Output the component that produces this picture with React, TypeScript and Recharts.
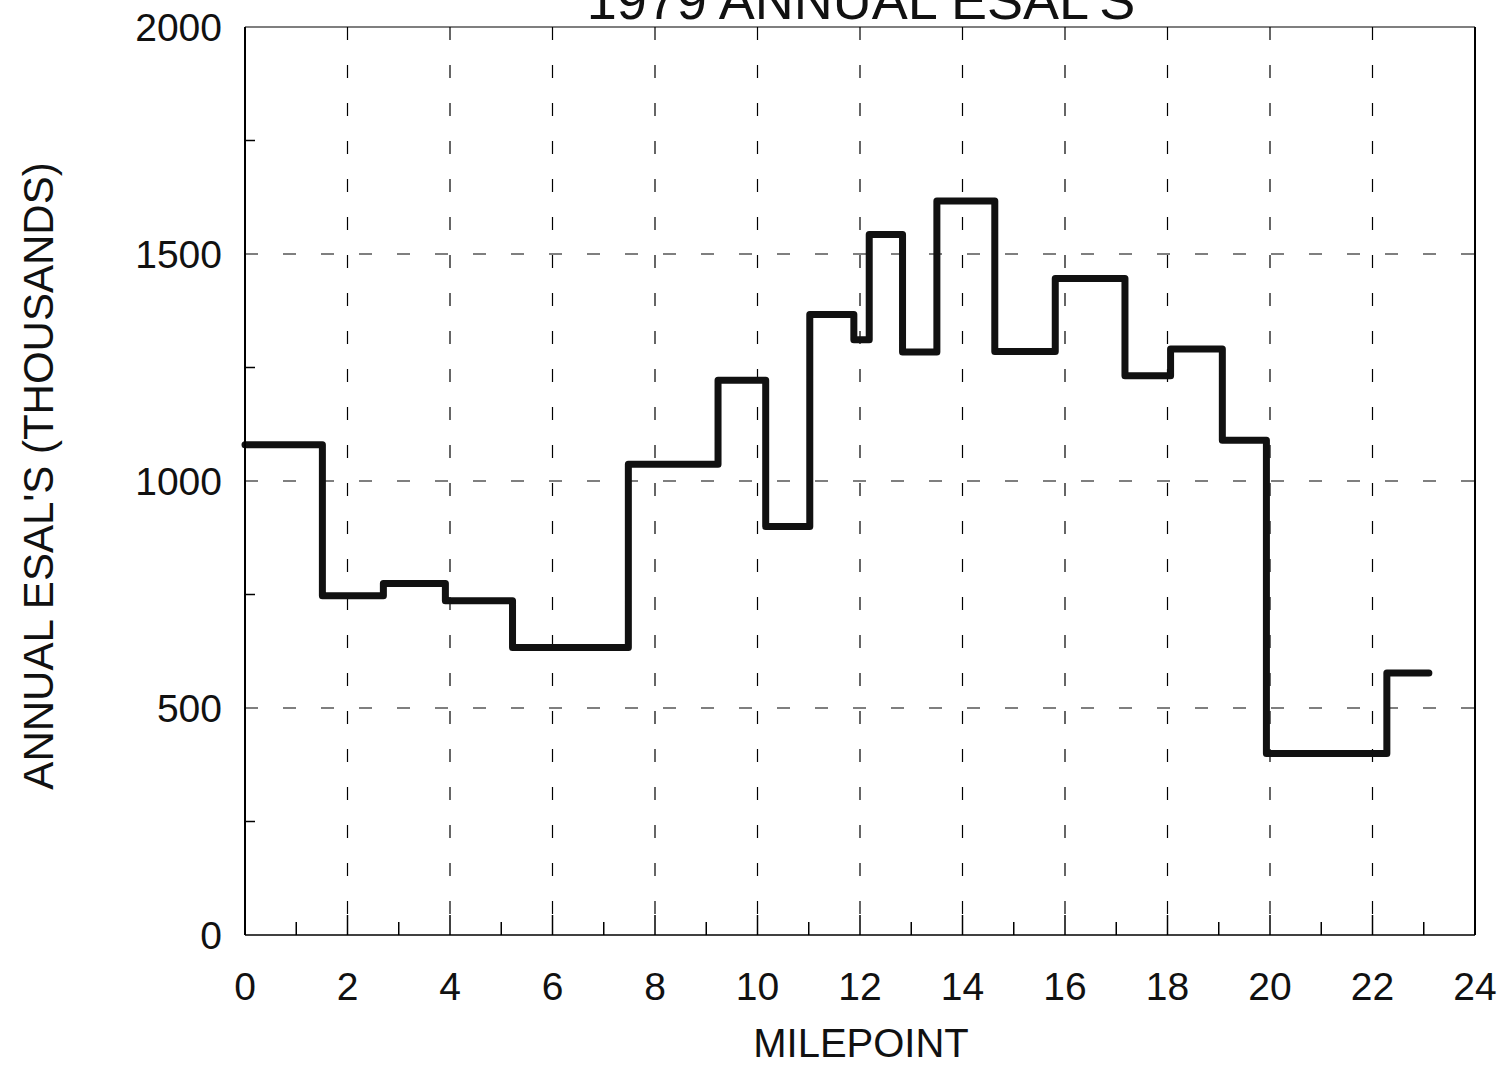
import React from "react";
import {
  LineChart,
  Line,
  XAxis,
  YAxis,
  CartesianGrid,
  ReferenceLine,
  Label
} from "recharts";

// milepoint where each section starts, and its annual ESALs (thousands)
const milepoints = [0, 1.51, 2.7, 3.91, 5.22, 7.48, 9.23, 10.16, 11.02, 11.88, 12.18, 12.83, 13.5, 14.63, 15.81, 17.17, 18.06, 19.07, 19.93, 22.28, 23.1];
const esals = [1080, 747, 774, 736, 633, 1037, 1222, 900, 1367, 1311, 1543, 1284, 1617, 1285, 1446, 1232, 1291, 1090, 400, 577, 577];

const xTicks = [0, 1, 2, 3, 4, 5, 6, 7, 8, 9, 10, 11, 12, 13, 14, 15, 16, 17, 18, 19, 20, 21, 22, 23, 24];
const yTicks = [0, 250, 500, 750, 1000, 1250, 1500, 1750, 2000];
const xGrid = [2, 4, 6, 8, 10, 12, 14, 16, 18, 20, 22];
const yGrid = [500, 1000, 1500];

const data = milepoints.map((mp, i) => ({ mp, esal: esals[i] }));

const font = "'Liberation Sans', Arial, sans-serif";

const XTick = (props: any) => {
  const { x, y, payload } = props;
  const major = payload.value % 2 === 0;
  return (
    <g>
      <line x1={x} x2={x} y1={y} y2={y - (major ? 20 : 13)} stroke="#000" strokeWidth={1.5} />
      {major && (
        <text x={x} y={y + 65} textAnchor="middle" fontSize={39} fontFamily={font} fill="#111">
          {payload.value}
        </text>
      )}
    </g>
  );
};

const YTick = (props: any) => {
  const { x, y, payload } = props;
  const major = payload.value % 500 === 0;
  return (
    <g>
      <line x1={x} x2={x + (major ? 0 : 10)} y1={y} y2={y} stroke="#000" strokeWidth={1.5} />
      {major && (
        <text x={x - 23} y={y} dy="0.36em" textAnchor="end" fontSize={39} fontFamily={font} fill="#111">
          {payload.value}
        </text>
      )}
    </g>
  );
};

export default function App() {
  return (
    <div style={{ position: "absolute", left: 0, top: 0, background: "#fff" }}>
      <LineChart
        width={1504}
        height={1065}
        data={data}
        margin={{ top: 27, right: 29, left: 145, bottom: 30 }}
      >
        <CartesianGrid
          stroke="#000"
          strokeWidth={1.2}
          strokeDasharray="13 25"
          verticalValues={xGrid}
          horizontalValues={yGrid}
        />
        <XAxis
          dataKey="mp"
          type="number"
          domain={[0, 24]}
          ticks={xTicks}
          interval={0}
          height={100}
          tickSize={0}
          tickMargin={0}
          tickLine={false}
          tick={<XTick />}
          axisLine={{ stroke: "#000", strokeWidth: 1.5 }}
        >
          <Label
            content={() => (
              <text x={861} y={1057} textAnchor="middle" fontSize={40} fontFamily={font} fill="#111">
                MILEPOINT
              </text>
            )}
          />
        </XAxis>
        <YAxis
          type="number"
          domain={[0, 2000]}
          ticks={yTicks}
          interval={0}
          width={100}
          tickSize={0}
          tickMargin={0}
          tickLine={false}
          tick={<YTick />}
          axisLine={{ stroke: "#000", strokeWidth: 2 }}
        >
          <Label
            content={() => (
              <g>
                <text
                  x={53}
                  y={476}
                  transform="rotate(-90 53 476)"
                  textAnchor="middle"
                  fontSize={42}
                  fontFamily={font}
                  fill="#111"
                >
                  ANNUAL ESAL'S (THOUSANDS)
                </text>
                <text x={861} y={19} textAnchor="middle" fontSize={54} fontFamily={font} fill="#111">
                  1979 ANNUAL ESAL'S
                </text>
              </g>
            )}
          />
        </YAxis>
        <ReferenceLine y={2000} stroke="#000" strokeWidth={1.2} />
        <ReferenceLine x={24} stroke="#000" strokeWidth={2} />
        <Line
          type="stepAfter"
          dataKey="esal"
          stroke="#111"
          strokeWidth={7}
          strokeLinejoin="round"
          strokeLinecap="round"
          dot={false}
          activeDot={false}
          isAnimationActive={false}
        />
      </LineChart>
    </div>
  );
}
